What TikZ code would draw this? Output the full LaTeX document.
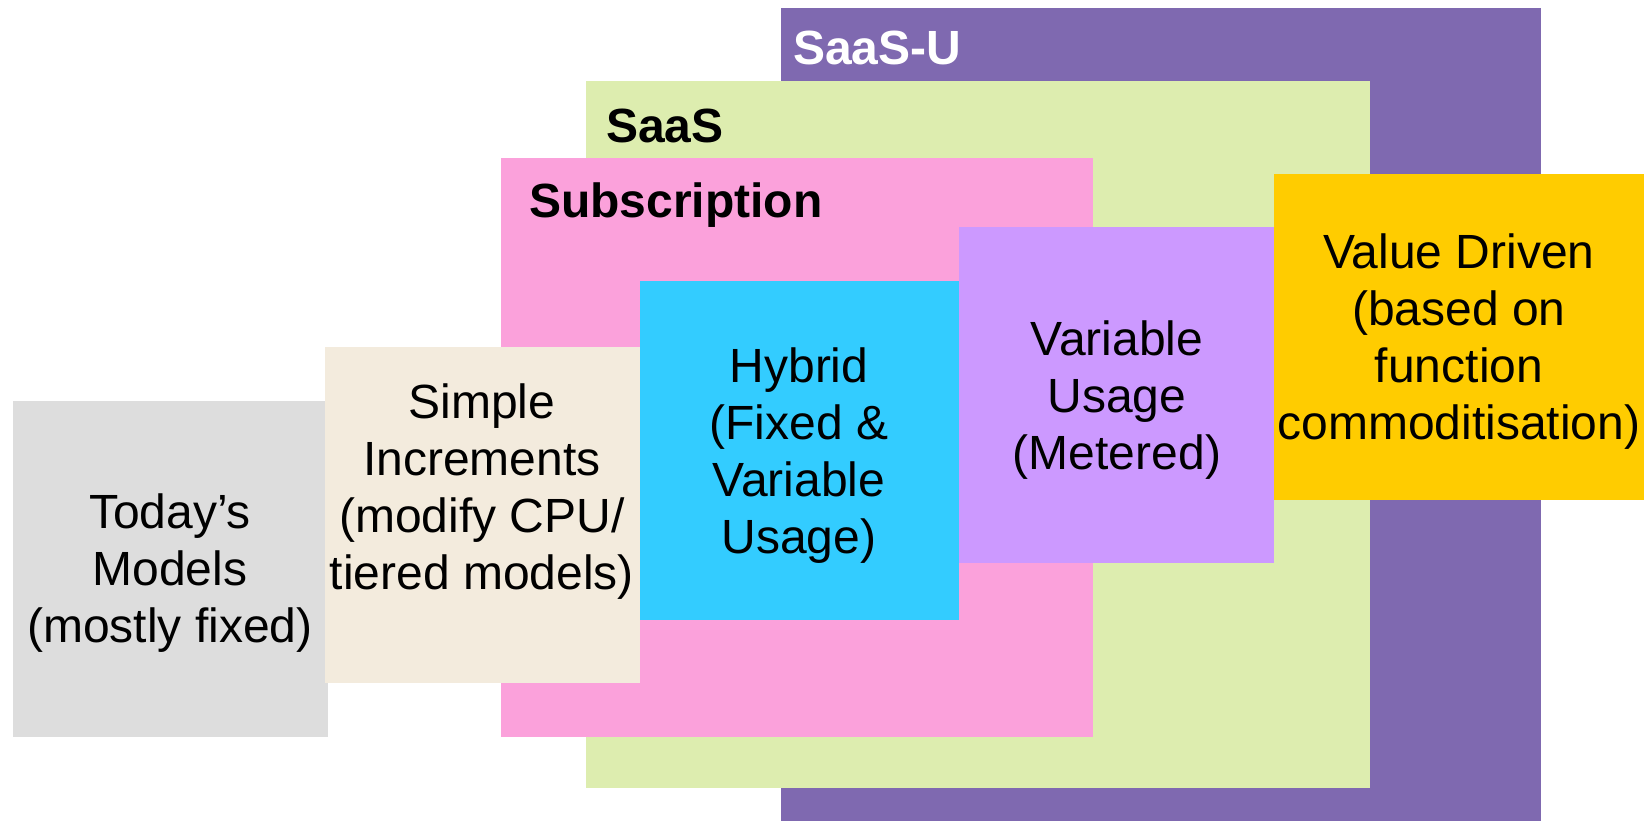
\documentclass[tikz,border=0pt]{standalone}
\usepackage{fontspec}
\setmainfont{Liberation Sans}
\definecolor{saasu}{HTML}{7F69B0}
\definecolor{saas}{HTML}{DDEDAF}
\definecolor{subscr}{HTML}{FBA1DB}
\definecolor{today}{HTML}{DDDDDD}
\definecolor{simple}{HTML}{F3EBDD}
\definecolor{hybrid}{HTML}{33CCFF}
\definecolor{metered}{HTML}{CC99FF}
\definecolor{valuedriven}{HTML}{FFCC00}
\newcommand{\tier}[5]{% colour, left, top, right, bottom
    \fill[#1] (#2, #3) rectangle (#4, #5)
}
\tikzset{
    model/.style={align=center, inner sep=0pt, font=\fontsize{48}{57}\selectfont},
    tiername/.style={anchor=base west, inner sep=0pt, font=\bfseries\fontsize{48}{57}\selectfont}
}

\begin{document}
\begin{tikzpicture}[x=1pt, y=-1pt]
    \useasboundingbox (0, 0) rectangle (1644, 821);
    % nested families, back to front
    \tier{saasu}{781}{8}{1541}{821};
    \tier{saas}{586}{81}{1370}{788};
    \tier{subscr}{501}{158}{1093}{737};
    \node[tiername, text=white] (saasu) at (793, 65) {SaaS-U};
    \node[tiername] (saas) at (606, 143) {SaaS};
    \node[tiername] (subscr) at (529, 218) {Subscription};
    % the steps
    \tier{today}{13}{401}{328}{737};
    \tier{simple}{325}{347}{640}{683};
    \tier{hybrid}{640}{281}{959}{620};
    \tier{metered}{959}{227}{1274}{563};
    \tier{valuedriven}{1274}{174}{1644}{500};
    \node[model] (today) at (170, 573) {Today’s\\Models\\(mostly fixed)};
    \node[model] (simple) at (482, 492) {Simple\\Increments\\(modify CPU/\\tiered models)};
    \node[model] (hybrid) at (799, 456) {Hybrid\\(Fixed \&\\Variable\\Usage)};
    \node[model] (metered) at (1117, 400) {Variable\\Usage\\(Metered)};
    \node[model] (valuedriven) at (1459, 342) {Value Driven\\(based on\\function\\commoditisation)};
\end{tikzpicture}
\end{document}
